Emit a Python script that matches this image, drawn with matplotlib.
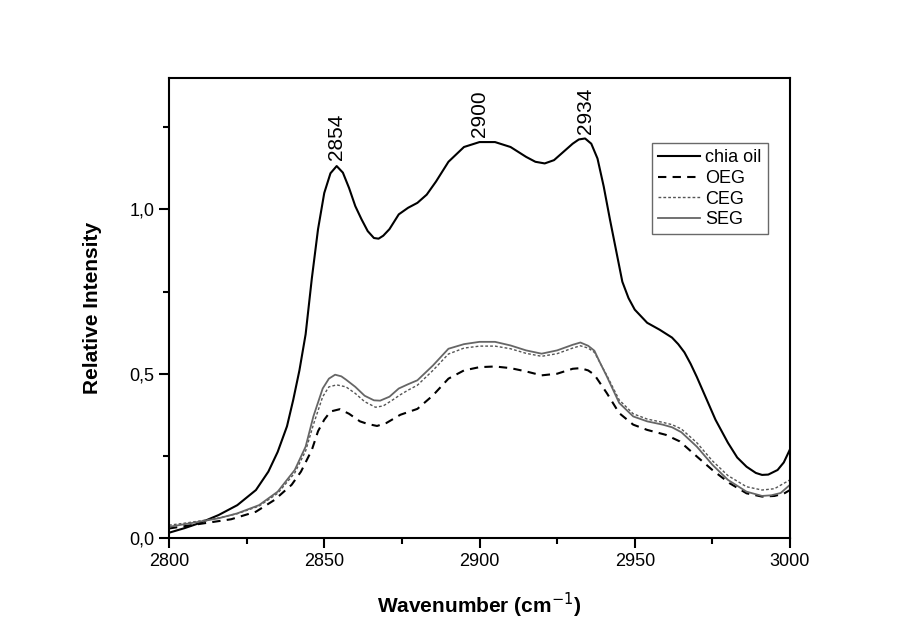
import matplotlib
matplotlib.use("Agg")
import matplotlib.pyplot as plt
from matplotlib.ticker import MultipleLocator, FuncFormatter

plt.rcParams['font.family'] = ['Liberation Sans', 'DejaVu Sans']

wn_chia = [2800, 2805, 2810, 2816, 2822, 2828, 2832, 2835, 2838, 2840, 2842, 2844, 2846, 2848, 2850, 2852,
           2854, 2856, 2858, 2860, 2862, 2864, 2866, 2867.5, 2869, 2871, 2874, 2877, 2880, 2883, 2886,
           2890, 2895, 2900, 2905, 2910, 2915, 2918, 2921, 2924, 2927, 2930, 2932, 2934, 2936, 2938,
           2940, 2942, 2944, 2946, 2948, 2950, 2954, 2958, 2962, 2964, 2966, 2968, 2970, 2973, 2976,
           2980, 2983, 2986, 2989, 2991, 2993, 2996, 2998, 3000]
chia = [0.016, 0.030, 0.046, 0.070, 0.100, 0.146, 0.202, 0.262, 0.34, 0.42, 0.51, 0.62, 0.79, 0.94, 1.05, 1.11,
        1.132, 1.112, 1.065, 1.01, 0.97, 0.934, 0.913, 0.911, 0.92, 0.94, 0.985, 1.005, 1.02, 1.045, 1.085,
        1.145, 1.19, 1.205, 1.205, 1.19, 1.16, 1.145, 1.14, 1.15, 1.175, 1.20, 1.213, 1.216, 1.20, 1.155,
        1.07, 0.97, 0.875, 0.78, 0.73, 0.695, 0.655, 0.634, 0.61, 0.59, 0.565, 0.53, 0.49, 0.425, 0.36,
        0.29, 0.245, 0.217, 0.198, 0.192, 0.193, 0.207, 0.23, 0.27]

wn_seg = [2800, 2805, 2810, 2816, 2822, 2829, 2835, 2840.5, 2844, 2846.5, 2849.5, 2851.5, 2853.5, 2855.5,
          2857, 2860, 2863, 2866, 2868, 2871, 2874, 2877, 2880, 2885, 2890, 2895, 2900, 2905, 2910,
          2915, 2920, 2925, 2930, 2932.5, 2935, 2937, 2939, 2941, 2945, 2949.5, 2954, 2959, 2962, 2965,
          2967.5, 2970, 2975, 2980, 2986, 2991, 2994, 2997, 3000]
seg = [0.034, 0.042, 0.050, 0.060, 0.075, 0.100, 0.141, 0.207, 0.278, 0.37, 0.455, 0.485, 0.497, 0.492,
       0.482, 0.46, 0.433, 0.419, 0.418, 0.43, 0.455, 0.468, 0.48, 0.525, 0.576, 0.59, 0.597, 0.597, 0.586,
       0.571, 0.561, 0.571, 0.588, 0.595, 0.585, 0.57, 0.53, 0.492, 0.411, 0.37, 0.355, 0.345, 0.337, 0.322,
       0.30, 0.278, 0.223, 0.177, 0.141, 0.128, 0.13, 0.137, 0.162]

wn_ceg = [2800, 2805, 2810, 2816, 2822, 2829, 2835, 2840.5, 2844, 2846.5, 2849.5, 2851.5, 2854, 2857,
          2860, 2863, 2866.5, 2869, 2872, 2874.5, 2877, 2880, 2885, 2890, 2895, 2900, 2905, 2910, 2915,
          2920, 2925, 2930, 2932.5, 2935, 2937, 2939, 2941, 2945, 2949.5, 2954, 2959, 2962, 2965, 2970,
          2975, 2980, 2986, 2991, 2995, 3000]
ceg = [0.039, 0.045, 0.052, 0.061, 0.074, 0.097, 0.136, 0.198, 0.265, 0.345, 0.43, 0.46, 0.466, 0.46,
       0.44, 0.415, 0.398, 0.402, 0.42, 0.436, 0.45, 0.465, 0.51, 0.56, 0.578, 0.584, 0.584, 0.576, 0.562,
       0.553, 0.561, 0.578, 0.585, 0.578, 0.565, 0.53, 0.495, 0.42, 0.378, 0.362, 0.352, 0.345, 0.332, 0.29,
       0.235, 0.19, 0.156, 0.146, 0.15, 0.177]

wn_oeg = [2800, 2810, 2820, 2828, 2834, 2839.5, 2842.5, 2846, 2848, 2850, 2852, 2855,
          2858, 2861.5, 2864, 2867, 2870, 2874.5, 2880, 2885, 2890, 2895, 2900, 2905, 2910, 2915, 2920,
          2925, 2930, 2932.5, 2935, 2937, 2941, 2945, 2949.5, 2954, 2960, 2964.5, 2970, 2975, 2980.5, 2986,
          2991, 2995, 2998, 3000]
oeg = [0.029, 0.043, 0.057, 0.080, 0.116, 0.162, 0.202, 0.268, 0.325, 0.36, 0.385, 0.392,
       0.378, 0.355, 0.347, 0.341, 0.35, 0.375, 0.393, 0.434, 0.485, 0.51, 0.52, 0.522, 0.517, 0.507, 0.495,
       0.50, 0.515, 0.517, 0.51, 0.497, 0.441, 0.38, 0.345, 0.329, 0.314, 0.294, 0.248, 0.207, 0.167, 0.136,
       0.126, 0.128, 0.135, 0.146]

peak_labels = ["2854", "2900", "2934"]
peak_x = [2854, 2900, 2934]
peak_y = [1.15, 1.22, 1.23]

fig = plt.figure(figsize=(9.02, 6.35), dpi=100)
ax = fig.add_axes([169/902, 1 - 538/635, 621/902, 460/635])

ax.plot(wn_chia, chia, color='black', lw=1.5, label='chia oil')
ax.plot(wn_oeg, oeg, color='black', lw=1.5, ls=(0, (4, 3)), label='OEG')
ax.plot(wn_ceg, ceg, color='#555555', lw=1.0, ls=(0, (2, 1.5)), label='CEG')
ax.plot(wn_seg, seg, color='#666666', lw=1.3, label='SEG')

for t, x, y in zip(peak_labels, peak_x, peak_y):
    ax.text(x, y, t, rotation=90, ha='center', va='bottom', fontsize=15)

ax.set_xlim(2800, 3000)
ax.set_ylim(0, 1.40)
ax.xaxis.set_major_locator(MultipleLocator(50))
ax.xaxis.set_minor_locator(MultipleLocator(25))
ax.yaxis.set_major_locator(MultipleLocator(0.5))
ax.yaxis.set_minor_locator(MultipleLocator(0.25))
ax.yaxis.set_major_formatter(FuncFormatter(lambda v, p: f"{v:.1f}".replace('.', ',')))
ax.tick_params(which='major', direction='out', length=7, width=1.5, labelsize=13)
ax.tick_params(which='minor', direction='out', length=4, width=1.5)
for s in ax.spines.values():
    s.set_linewidth(1.5)

ax.set_xlabel('Wavenumber (cm$^{-1}$)', fontsize=15, fontweight='bold', labelpad=15)
ax.set_ylabel('Relative Intensity', fontsize=15, fontweight='bold', labelpad=20)

leg = ax.legend(loc='upper right', bbox_to_anchor=(0.9646, 0.8587), fontsize=13,
                frameon=True, fancybox=False, handlelength=2.3, handletextpad=0.3,
                borderpad=0.35, labelspacing=0.2, borderaxespad=0)
leg.get_frame().set_edgecolor('#444444')
leg.get_frame().set_linewidth(1.0)

fig.savefig('out.png', dpi=100)
